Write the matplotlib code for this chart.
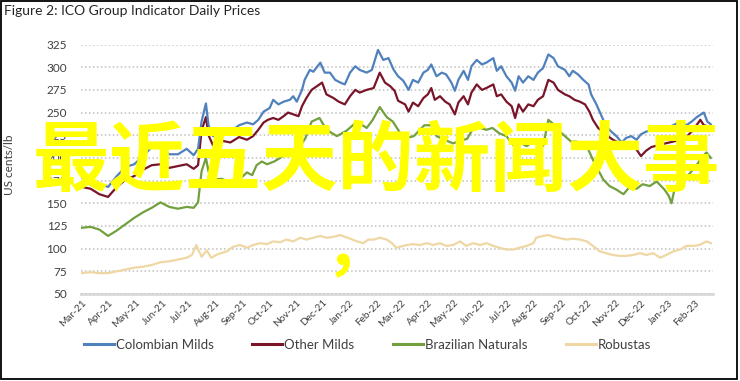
import matplotlib
matplotlib.use('Agg')
import matplotlib.pyplot as plt
import matplotlib.dates as mdates
from matplotlib.patches import Rectangle
from matplotlib.lines import Line2D
import pandas as pd

start = pd.Timestamp('2021-03-01')

col_days = [0,10,20,30,40,50,60,70,80,90,100,110,120,128,133,137,142,145,150,160,170,180,
            189,196,202,208,215,219,225,231,238,242,246,252,255,261,265,273,278,284,290,296,301,307,313,318,326,332,339,345,351,357,362,
            368,374,379,385,391,396,400,406,412,417,423,427,431,437,442,446,452,458,463,471,475,480,486,492,496,500,505,511,517,522,528,534,540,545,
            553,558,562,568,574,580,583,589,595,600,606,612,618,623,629,635,640,646,654,662,669,677,685,692,698,704,712,716,720]
col_vals = [178,176,172,168,180,190,193,202,212,212,204,204,210,203,210,240,260,236,224,229,229,236,
            239,237,242,251,255,264,259,262,264,268,262,275,286,297,295,305,294,294,286,283,281,294,301,297,294,297,319,308,310,297,290,
            285,275,286,283,294,297,303,290,294,292,283,274,286,296,286,301,308,303,305,310,296,301,290,283,274,290,283,290,286,294,299,314,310,301,
            297,290,296,292,286,281,270,259,246,235,229,224,217,222,224,220,226,229,231,231,233,236,240,236,240,245,250,240,237]

oth_days = [0,10,20,30,40,50,60,70,80,90,100,110,120,128,133,137,142,145,150,160,170,180,
            189,196,202,208,213,219,225,231,236,242,248,252,257,263,269,275,280,288,294,301,307,313,318,326,334,341,347,353,358,362,
            370,374,379,385,391,396,400,404,410,416,421,427,431,437,442,446,452,458,463,471,475,480,486,492,496,500,505,511,517,522,528,534,540,545,
            553,558,564,570,576,581,585,591,597,602,608,614,619,627,633,640,646,652,660,668,677,685,693,700,708,712,720]
oth_vals = [168,166,160,157,168,176,180,187,192,193,189,191,193,188,192,230,245,225,214,219,217,223,
            220,224,231,239,242,244,242,246,250,248,246,257,266,275,279,283,270,266,262,259,268,275,272,275,277,294,283,279,274,263,
            259,251,261,257,266,270,277,264,268,262,259,248,261,268,259,272,281,275,277,281,268,270,262,257,244,259,251,259,257,264,268,286,283,275,
            270,268,264,262,259,251,242,233,228,224,220,217,215,216,212,202,208,212,214,216,218,220,224,231,242,236,234]

bra_days = [0,10,20,30,40,50,60,70,80,90,100,110,120,128,133,137,142,145,150,160,170,180,
            189,195,200,206,212,220,227,235,243,250,256,263,272,280,292,303,315,326,333,341,349,356,364,
            372,380,387,392,400,406,415,425,433,441,450,456,463,470,478,486,494,501,509,517,524,528,534,540,545,
            553,560,566,572,578,585,592,597,604,612,620,627,635,642,650,658,667,672,675,679,688,696,703,711,715,720]
bra_vals = [123,124,121,114,120,127,134,140,145,151,146,144,146,145,151,185,200,185,176,177,173,176,
            184,181,192,196,193,196,200,205,203,213,222,240,244,231,224,230,240,233,242,256,245,240,228,
            222,224,231,236,236,224,220,216,219,221,236,233,231,233,227,224,214,217,213,218,220,213,242,237,231,
            224,218,218,215,213,198,185,176,169,165,160,168,166,171,169,174,165,158,150,168,176,183,191,202,206,200]

rob_days = [0,10,20,30,40,50,60,70,80,90,100,110,120,126,131,137,143,148,156,166,173,181,
            189,196,204,212,219,227,234,242,250,257,265,273,280,288,296,301,307,315,322,328,334,341,349,355,360,
            372,379,387,395,402,410,417,425,433,440,448,456,463,471,478,486,494,501,509,517,520,528,534,540,545,
            555,562,570,578,585,593,600,608,616,623,631,639,646,654,662,669,677,685,692,700,707,715,720]
rob_vals = [73,74,73,73,75,77,79,80,82,85,86,88,90,93,104,91,98,90,94,97,102,104,
            101,104,106,105,108,107,110,108,112,110,112,114,112,113,115,113,111,108,106,110,110,112,110,106,101,
            104,105,104,106,104,106,103,104,108,103,106,104,106,103,101,99,99,101,103,106,112,114,115,113,112,
            110,111,110,108,103,97,95,93,92,92,93,95,93,95,90,93,97,99,103,103,104,108,106]

series_names = ['Colombian Milds', 'Other Milds', 'Brazilian Naturals', 'Robustas']
series_colors = ['#4f81bd', '#7a1428', '#72a03e', '#efd7a4']
y_ticks = [50, 75, 100, 125, 150, 175, 200, 225, 250, 275, 300, 325]

plt.rcParams['font.family'] = ['Lato', 'DejaVu Sans']

fig = plt.figure(figsize=(7.4, 3.81), dpi=100)
W, H = 740, 381
ax = fig.add_axes([81/W, 87/H, 632/W, 249.5/H])

data = [(col_days, col_vals), (oth_days, oth_vals), (bra_days, bra_vals), (rob_days, rob_vals)]
for i in [3, 2, 1, 0]:
    d, v = data[i]
    x = start + pd.to_timedelta(d, unit='D')
    ax.plot(x, v, color=series_colors[i], lw=1.6, solid_joinstyle='round', zorder=3)

ax.set_ylim(50, 325)
ax.set_yticks(y_ticks)
ax.set_xlim(start - pd.Timedelta(days=1), start + pd.Timedelta(days=722.5))
ax.xaxis.set_major_locator(mdates.MonthLocator(bymonthday=1))
ax.xaxis.set_major_formatter(mdates.DateFormatter('%b-%y'))
for s in ax.spines.values():
    s.set_visible(False)
ax.yaxis.grid(True, linestyle=(0, (1, 1.6)), color='#c0c0c0', lw=1.1, zorder=0)
ax.axhline(50, color='#d9d9d9', lw=2, clip_on=False, zorder=1)
ax.tick_params(axis='y', length=0, pad=10, labelsize=8.5, labelcolor='#404040')
ax.tick_params(axis='x', length=0, pad=3, labelsize=7.2, labelcolor='#404040')
for lab in ax.get_xticklabels():
    lab.set_rotation(45)
    lab.set_ha('right')
    lab.set_rotation_mode('anchor')

fig.text(4/W, 1 - 11/H, 'Figure 2: ICO Group Indicator Daily Prices', fontsize=10,
         color='#262626', ha='left', va='center')
fig.text(10/W, 1 - 165/H, 'US cents/lb', rotation=90, fontsize=8.5, color='#404040',
         ha='center', va='center')

handles = [Line2D([], [], color=c, lw=2.2) for c in series_colors]
fig.legend(handles, series_names, loc='center', bbox_to_anchor=(367.5/W, 1 - 345/H), ncol=4,
           frameon=False, fontsize=9.5, handlelength=2.3, handletextpad=0.15, columnspacing=2.9,
           labelcolor='#404040')

fig.text(377/W, 1 - 162/H, '最近五天的新闻大事', fontsize=55, color='#ffff00', ha='center', va='center',
         family=['Noto Sans CJK SC'], weight='bold', zorder=10)
fig.text(357/W, 1 - 250/H, '，', fontsize=46, color='#ffff00', ha='center', va='center',
         family=['Noto Sans CJK SC'], weight='bold', zorder=10)

fig.add_artist(Rectangle((0.5/W, 2.5/H), 736.5/W, 378/H, transform=fig.transFigure,
                         fill=False, edgecolor='black', lw=1.3))

fig.savefig('out.png', dpi=100)
